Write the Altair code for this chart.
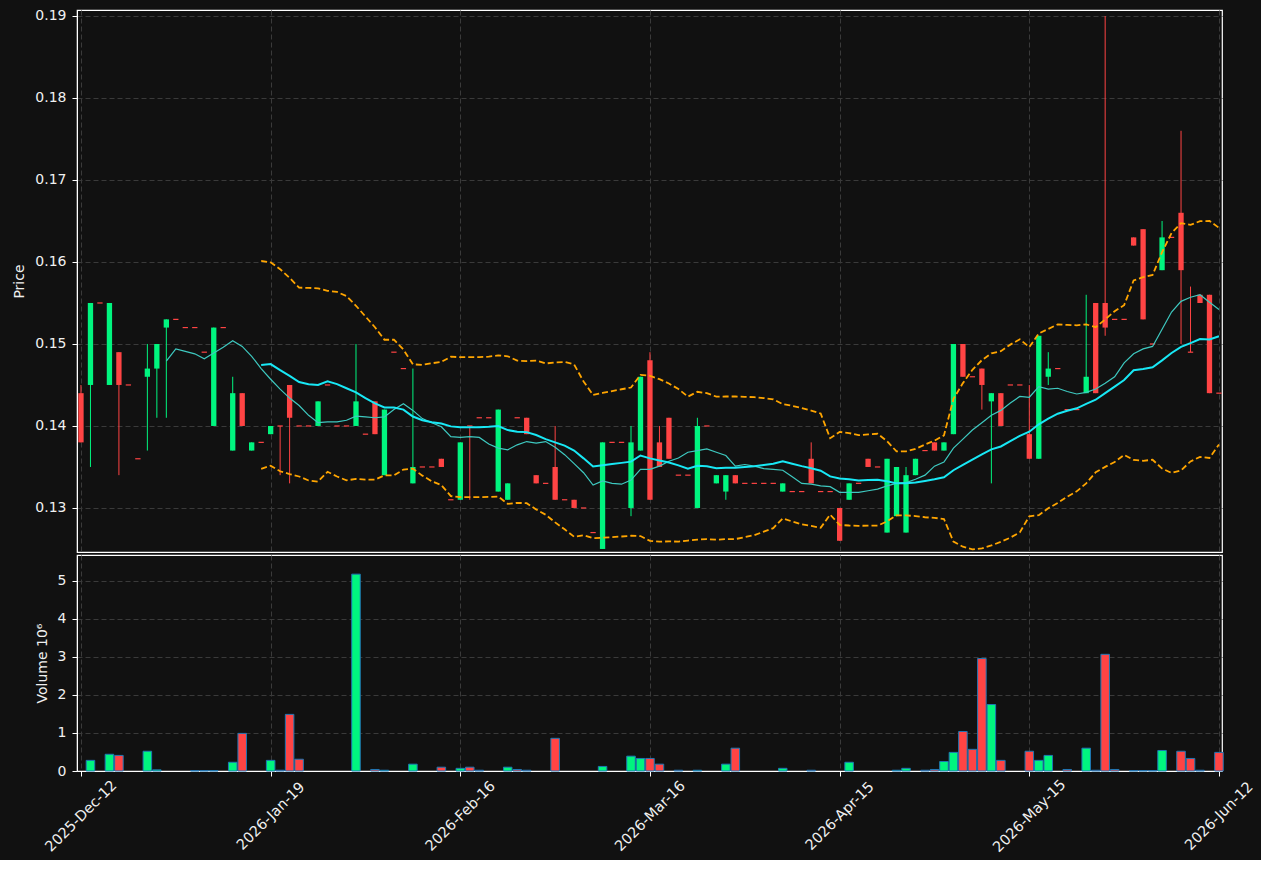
import altair as alt
import pandas as pd

# ---- data (index = trading session) ----
open_ = [
    0.144, 0.145, 0.155, 0.145, 0.149, 0.145, 0.136, 0.146, 0.147, 0.152,
    0.153, 0.152, 0.152, 0.149, 0.140, 0.152, 0.137, 0.144, 0.137, 0.138,
    0.139, 0.140, 0.145, 0.140, 0.140, 0.140, 0.145, 0.140, 0.140, 0.140,
    0.139, 0.143, 0.134, 0.149, 0.147, 0.133, 0.135, 0.135, 0.136, 0.131,
    0.131, 0.140, 0.141, 0.141, 0.132, 0.131, 0.141, 0.141, 0.134, 0.133,
    0.135, 0.131, 0.131, 0.130, 0.127, 0.125, 0.138, 0.138, 0.130, 0.137,
    0.148, 0.138, 0.141, 0.134, 0.134, 0.130, 0.140, 0.133, 0.132, 0.134,
    0.133, 0.133, 0.133, 0.133, 0.132, 0.132, 0.132, 0.136, 0.132, 0.132,
    0.130, 0.131, 0.133, 0.136, 0.135, 0.127, 0.129, 0.127, 0.134, 0.137,
    0.138, 0.137, 0.139, 0.150, 0.146, 0.147, 0.143, 0.144, 0.145, 0.145,
    0.139, 0.136, 0.146, 0.147, 0.142, 0.142, 0.144, 0.155, 0.155, 0.153,
    0.153, 0.163, 0.164, 0.150, 0.159, 0.163, 0.166, 0.149, 0.156, 0.156,
    0.144,
]
high_ = [
    0.145, 0.155, 0.155, 0.155, 0.149, 0.145, 0.136, 0.150, 0.150, 0.153,
    0.153, 0.152, 0.152, 0.149, 0.152, 0.152, 0.146, 0.144, 0.138, 0.138,
    0.140, 0.140, 0.145, 0.140, 0.140, 0.143, 0.145, 0.140, 0.140, 0.150,
    0.139, 0.143, 0.142, 0.149, 0.147, 0.147, 0.135, 0.135, 0.136, 0.131,
    0.138, 0.140, 0.141, 0.141, 0.142, 0.133, 0.141, 0.141, 0.134, 0.133,
    0.140, 0.131, 0.131, 0.130, 0.127, 0.138, 0.138, 0.138, 0.140, 0.146,
    0.149, 0.140, 0.141, 0.134, 0.134, 0.141, 0.140, 0.134, 0.134, 0.134,
    0.133, 0.133, 0.133, 0.133, 0.133, 0.132, 0.132, 0.138, 0.132, 0.132,
    0.130, 0.133, 0.133, 0.136, 0.135, 0.136, 0.135, 0.135, 0.136, 0.137,
    0.138, 0.138, 0.150, 0.150, 0.146, 0.147, 0.144, 0.144, 0.145, 0.145,
    0.145, 0.151, 0.149, 0.147, 0.142, 0.142, 0.156, 0.155, 0.190, 0.153,
    0.153, 0.163, 0.164, 0.150, 0.165, 0.163, 0.176, 0.157, 0.156, 0.156,
    0.144,
]
low_ = [
    0.138, 0.135, 0.155, 0.145, 0.134, 0.145, 0.136, 0.137, 0.141, 0.141,
    0.153, 0.152, 0.152, 0.149, 0.140, 0.152, 0.137, 0.140, 0.137, 0.138,
    0.139, 0.134, 0.133, 0.140, 0.140, 0.140, 0.145, 0.140, 0.140, 0.140,
    0.139, 0.139, 0.134, 0.149, 0.147, 0.133, 0.135, 0.135, 0.135, 0.131,
    0.131, 0.131, 0.141, 0.141, 0.132, 0.131, 0.141, 0.139, 0.133, 0.133,
    0.131, 0.131, 0.130, 0.130, 0.127, 0.125, 0.138, 0.138, 0.129, 0.137,
    0.131, 0.135, 0.136, 0.134, 0.134, 0.130, 0.140, 0.133, 0.131, 0.133,
    0.133, 0.133, 0.133, 0.133, 0.132, 0.132, 0.132, 0.133, 0.132, 0.132,
    0.126, 0.131, 0.133, 0.135, 0.135, 0.127, 0.129, 0.127, 0.134, 0.137,
    0.137, 0.137, 0.139, 0.146, 0.146, 0.142, 0.133, 0.140, 0.145, 0.145,
    0.136, 0.136, 0.145, 0.147, 0.142, 0.142, 0.144, 0.144, 0.151, 0.153,
    0.153, 0.162, 0.153, 0.150, 0.159, 0.163, 0.150, 0.149, 0.155, 0.144,
    0.144,
]
close_ = [
    0.138, 0.155, 0.155, 0.155, 0.145, 0.145, 0.136, 0.147, 0.150, 0.153,
    0.153, 0.152, 0.152, 0.149, 0.152, 0.152, 0.144, 0.140, 0.138, 0.138,
    0.140, 0.140, 0.141, 0.140, 0.140, 0.143, 0.145, 0.140, 0.140, 0.143,
    0.139, 0.139, 0.142, 0.149, 0.147, 0.135, 0.135, 0.135, 0.135, 0.131,
    0.138, 0.140, 0.141, 0.141, 0.142, 0.133, 0.141, 0.139, 0.133, 0.133,
    0.131, 0.131, 0.130, 0.130, 0.127, 0.138, 0.138, 0.138, 0.138, 0.146,
    0.131, 0.135, 0.136, 0.134, 0.134, 0.140, 0.140, 0.134, 0.134, 0.133,
    0.133, 0.133, 0.133, 0.133, 0.133, 0.132, 0.132, 0.133, 0.132, 0.132,
    0.126, 0.133, 0.133, 0.135, 0.135, 0.136, 0.135, 0.134, 0.136, 0.137,
    0.137, 0.138, 0.150, 0.146, 0.146, 0.145, 0.144, 0.140, 0.145, 0.145,
    0.136, 0.151, 0.147, 0.147, 0.142, 0.142, 0.146, 0.144, 0.152, 0.153,
    0.153, 0.162, 0.153, 0.150, 0.163, 0.163, 0.159, 0.149, 0.155, 0.144,
    0.144,
]
volume_m = [  # millions
    0.00, 0.28, 0.00, 0.44, 0.41, 0.00, 0.00, 0.52, 0.03, 0.00,
    0.00, 0.00, 0.01, 0.01, 0.01, 0.00, 0.23, 0.99, 0.00, 0.00,
    0.28, 0.02, 1.49, 0.31, 0.00, 0.00, 0.00, 0.00, 0.00, 5.18,
    0.00, 0.04, 0.02, 0.00, 0.00, 0.18, 0.00, 0.00, 0.10, 0.00,
    0.07, 0.10, 0.02, 0.00, 0.00, 0.10, 0.04, 0.02, 0.00, 0.00,
    0.86, 0.00, 0.00, 0.00, 0.00, 0.12, 0.00, 0.00, 0.39, 0.33,
    0.33, 0.18, 0.00, 0.02, 0.00, 0.02, 0.00, 0.00, 0.18, 0.60,
    0.00, 0.00, 0.00, 0.00, 0.07, 0.00, 0.00, 0.02, 0.00, 0.00,
    0.00, 0.23, 0.00, 0.00, 0.00, 0.00, 0.02, 0.07, 0.00, 0.02,
    0.04, 0.25, 0.49, 1.04, 0.57, 2.96, 1.75, 0.28, 0.00, 0.00,
    0.52, 0.28, 0.41, 0.00, 0.04, 0.00, 0.60, 0.02, 3.07, 0.04,
    0.00, 0.01, 0.01, 0.01, 0.54, 0.00, 0.52, 0.33, 0.02, 0.00,
    0.49,
]
tick_idx = [0, 20, 40, 60, 80, 100, 120]
tick_labels = ["2025-Dec-12", "2026-Jan-19", "2026-Feb-16", "2026-Mar-16",
               "2026-Apr-15", "2026-May-15", "2026-Jun-12"]
price_ticks = [0.13, 0.14, 0.15, 0.16, 0.17, 0.18, 0.19]
vol_ticks = [0, 1, 2, 3, 4, 5]

df = pd.DataFrame({
    "i": list(range(len(close_))),
    "open": open_, "high": high_, "low": low_, "close": close_, "vol": volume_m,
})

GREEN = "#00f57f"
RED = "#ff4444"
TEAL = "#3ec9c0"
CYAN = "#18e8f5"
ORANGE = "#ffa500"
BG = "#111111"
FONT = "DejaVu Sans"

label_map = "{" + ",".join(f"'{i}':'{l}'" for i, l in zip(tick_idx, tick_labels)) + "}"

xscale = alt.Scale(domain=[-0.42, 120.32], nice=False, zero=False)
yscale = alt.Scale(domain=[0.12463, 0.19073], nice=False, zero=False)
vscale = alt.Scale(domain=[0, 5.684], nice=False, zero=False)

x_axis_price = alt.Axis(values=tick_idx, labels=False, ticks=False, domain=False,
                        grid=True, title=None)
x_axis_vol = alt.Axis(values=tick_idx, labelExpr=f"{label_map}[datum.value]",
                      labelAngle=-45, labelAlign="center", labelBaseline="middle",
                      grid=True, title=None, ticks=True, tickSize=5, labelPadding=40,
                      labelOverlap=False, labelFlush=False, labelFontSize=14.5)
y_axis_price = alt.Axis(values=price_ticks, format=".2f", title="Price", grid=True,
                        titlePadding=8, labelPadding=6)
y_axis_vol = alt.Axis(values=vol_ticks, format="d", title="Volume  10\u2076", grid=True,
                      titlePadding=8, labelPadding=6)

color = alt.Color("dir:N", scale=alt.Scale(domain=["up", "down"], range=[GREEN, RED]),
                  legend=None)

base = alt.Chart(df).transform_calculate(
    dir="datum.close > datum.open ? 'up' : 'down'",
    xl="datum.i - 0.28",
    xr="datum.i + 0.28",
    bot="min(datum.open, datum.close)",
    top="max(datum.open, datum.close)",
)

wick = base.mark_rule(strokeWidth=1).encode(
    x=alt.X("i:Q", scale=xscale, axis=x_axis_price),
    y=alt.Y("low:Q", scale=yscale, axis=y_axis_price),
    y2="high:Q",
    color=color,
)
body = base.transform_filter("datum.open != datum.close").mark_rect().encode(
    x=alt.X("xl:Q", scale=xscale, axis=x_axis_price),
    x2="xr:Q",
    y=alt.Y("bot:Q", scale=yscale, axis=y_axis_price),
    y2="top:Q",
    color=color,
)
flat = base.transform_filter("datum.open == datum.close").mark_rule(strokeWidth=1.2).encode(
    x=alt.X("xl:Q", scale=xscale, axis=x_axis_price),
    x2="xr:Q",
    y=alt.Y("open:Q", scale=yscale, axis=y_axis_price),
    color=color,
)

ma10 = alt.Chart(df).transform_window(
    ma10="mean(close)", n10="count()", frame=[-9, 0], sort=[alt.SortField("i")]
).transform_filter("datum.n10 >= 10").mark_line(color=TEAL, strokeWidth=1.2).encode(
    x=alt.X("i:Q", scale=xscale, axis=x_axis_price),
    y=alt.Y("ma10:Q", scale=yscale, axis=y_axis_price),
)

bb_base = alt.Chart(df).transform_window(
    ma20="mean(close)", sd20="stdevp(close)", n20="count()", frame=[-19, 0],
    sort=[alt.SortField("i")]
).transform_filter("datum.n20 >= 20").transform_calculate(
    upper="datum.ma20 + 2 * datum.sd20",
    lower="datum.ma20 - 2 * datum.sd20",
)
ma20 = bb_base.mark_line(color=CYAN, strokeWidth=2).encode(
    x=alt.X("i:Q", scale=xscale, axis=x_axis_price),
    y=alt.Y("ma20:Q", scale=yscale, axis=y_axis_price),
)
upper = bb_base.mark_line(color=ORANGE, strokeWidth=1.8, strokeDash=[6, 3]).encode(
    x=alt.X("i:Q", scale=xscale, axis=x_axis_price),
    y=alt.Y("upper:Q", scale=yscale, axis=y_axis_price),
)
lower = bb_base.mark_line(color=ORANGE, strokeWidth=1.8, strokeDash=[6, 3]).encode(
    x=alt.X("i:Q", scale=xscale, axis=x_axis_price),
    y=alt.Y("lower:Q", scale=yscale, axis=y_axis_price),
)

price = alt.layer(wick, body, flat, upper, lower, ma10, ma20).properties(
    width=1145, height=542
)

vol = base.transform_filter("datum.vol > 0").transform_calculate(
    vl="datum.i - 0.45", vr="datum.i + 0.45", z="0"
).mark_rect(stroke="#1f77b4", strokeWidth=1).encode(
    x=alt.X("vl:Q", scale=xscale, axis=x_axis_vol),
    x2="vr:Q",
    y=alt.Y("vol:Q", scale=vscale, axis=y_axis_vol),
    y2="z:Q",
    color=color,
).properties(width=1145, height=216)

chart = alt.vconcat(price, vol, spacing=0).properties(
    background=BG,
    padding={"left": 12, "top": 8, "right": 5, "bottom": 5},
).configure_view(
    stroke="#ffffff", strokeWidth=1.2, fill=BG
).configure_axis(
    labelFont=FONT, titleFont=FONT, labelFontSize=14, titleFontSize=14,
    titleFontWeight="normal", labelColor="#f0f0f0", titleColor="#f0f0f0",
    tickColor="#ffffff", domainColor="#ffffff", gridColor="#3a3a3a",
    gridDash=[5, 3], gridWidth=1, tickSize=5,
)

chart.save("out.html", embed_options={"renderer": "svg", "actions": False})
